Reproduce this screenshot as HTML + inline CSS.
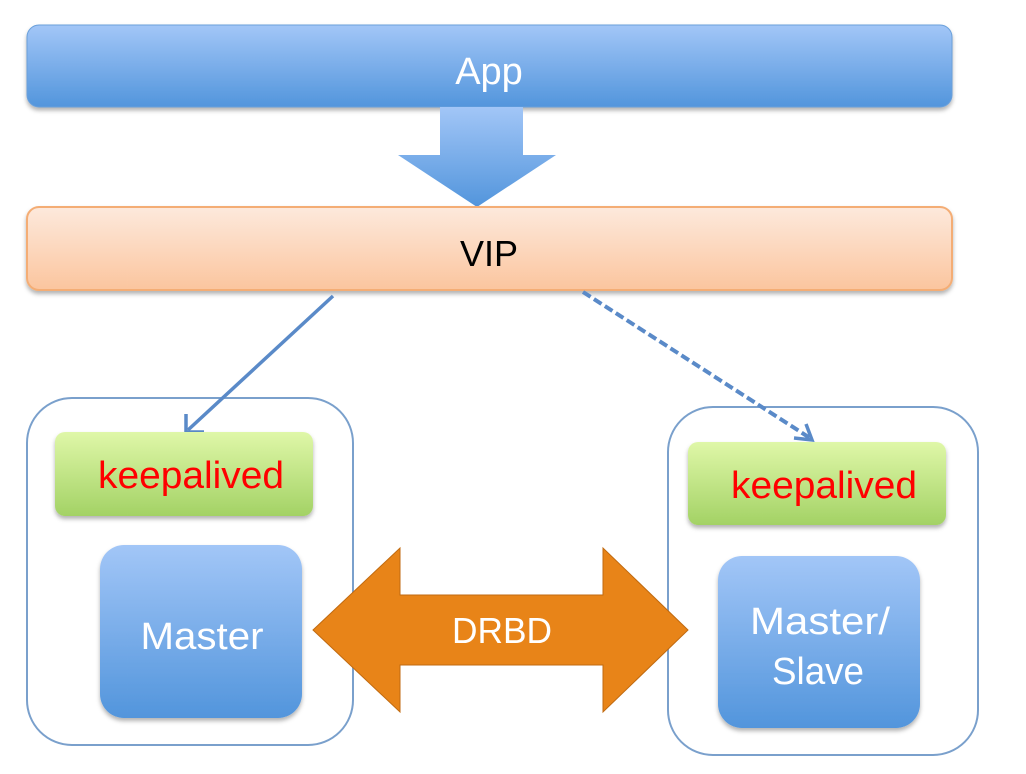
<!DOCTYPE html>
<html><head><style>
body{margin:0;background:#fff;width:1026px;height:769px;overflow:hidden;font-family:"Liberation Sans",sans-serif}
</style></head><body>
<svg width="1026" height="769" viewBox="0 0 1026 769" xmlns="http://www.w3.org/2000/svg">
<defs>
<linearGradient id="bl" x1="0" y1="0" x2="0" y2="1"><stop offset="0" stop-color="#a2c6f7"/><stop offset="1" stop-color="#5295dc"/></linearGradient>
<linearGradient id="or" x1="0" y1="0" x2="0" y2="1"><stop offset="0" stop-color="#fde9dc"/><stop offset="1" stop-color="#fbc59e"/></linearGradient>
<linearGradient id="gr" x1="0" y1="0" x2="0" y2="1"><stop offset="0" stop-color="#dff7a8"/><stop offset="1" stop-color="#a3d265"/></linearGradient>
<filter id="sh"><feDropShadow dx="0" dy="3" stdDeviation="2" flood-color="#000" flood-opacity="0.3"/></filter>
</defs>
<rect x="27" y="25" width="925" height="82" rx="12" fill="url(#bl)" stroke="#6aa0db" filter="url(#sh)"/>
<text x="489" y="84" font-size="38" fill="#fff" text-anchor="middle">App</text>
<polygon points="440,107 523,107 523,155 556,155 477,207 398,155 440,155" fill="url(#bl)"/>
<rect x="27" y="207" width="925" height="83" rx="12" fill="url(#or)" stroke="#f4ad74" stroke-width="2" filter="url(#sh)"/>
<text x="489" y="266" font-size="36" fill="#000" text-anchor="middle">VIP</text>
<rect x="27" y="398" width="326" height="347" rx="45" fill="none" stroke="#7aa0cc" stroke-width="2"/>
<rect x="668" y="407" width="310" height="348" rx="45" fill="none" stroke="#7aa0cc" stroke-width="2"/>
<line x1="333" y1="296" x2="188" y2="430" stroke="#5a8ac8" stroke-width="3.5"/>
<polyline points="186,414 186,432 204,432" fill="none" stroke="#5a8ac8" stroke-width="3.5"/>
<line x1="583" y1="292" x2="810" y2="438" stroke="#5a8ac8" stroke-width="4" stroke-dasharray="9,4"/>
<polyline points="794,438 812,440 806,424" fill="none" stroke="#5a8ac8" stroke-width="3.5"/>
<rect x="55" y="432" width="258" height="84" rx="10" fill="url(#gr)" filter="url(#sh)"/>
<text x="191" y="488" font-size="38" fill="#f00" text-anchor="middle" textLength="186" lengthAdjust="spacingAndGlyphs">keepalived</text>
<rect x="688" y="442" width="258" height="83" rx="10" fill="url(#gr)" filter="url(#sh)"/>
<text x="824" y="498" font-size="38" fill="#f00" text-anchor="middle" textLength="186" lengthAdjust="spacingAndGlyphs">keepalived</text>
<rect x="100" y="545" width="202" height="173" rx="24" fill="url(#bl)" filter="url(#sh)"/>
<text x="202" y="649" font-size="38" fill="#fff" text-anchor="middle" textLength="123" lengthAdjust="spacingAndGlyphs">Master</text>
<rect x="718" y="556" width="202" height="172" rx="24" fill="url(#bl)" filter="url(#sh)"/>
<text x="820" y="634" font-size="38" fill="#fff" text-anchor="middle" textLength="140" lengthAdjust="spacingAndGlyphs">Master/</text>
<text x="818" y="684" font-size="38" fill="#fff" text-anchor="middle" textLength="92" lengthAdjust="spacingAndGlyphs">Slave</text>
<polygon points="313,630 400,548 400,595 603,595 603,548 688,630 603,712 603,665 400,665 400,712" fill="#e88418" stroke="#c06a10"/>
<text x="502" y="643" font-size="36" fill="#fff" text-anchor="middle" textLength="100" lengthAdjust="spacingAndGlyphs">DRBD</text>
</svg>
</body></html>
